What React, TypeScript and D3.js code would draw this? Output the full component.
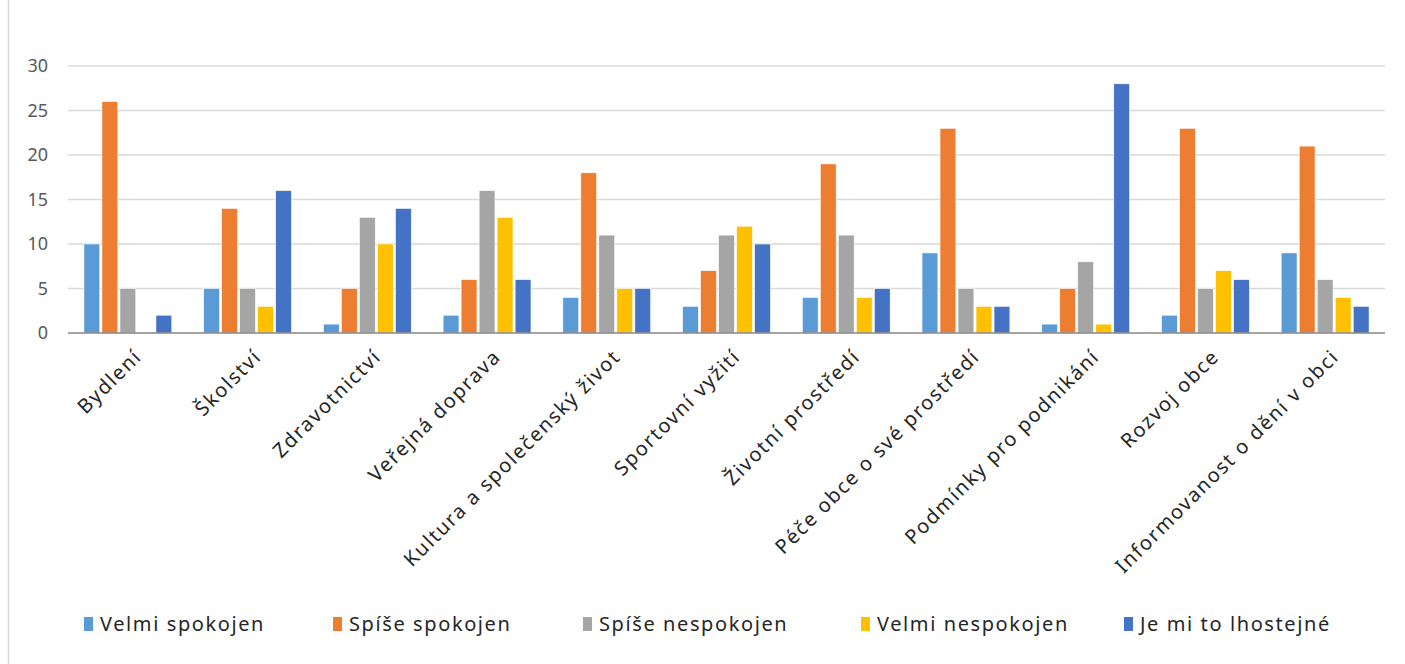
import { useEffect, useRef } from 'react';
import * as d3 from 'd3';

const categories = [
  'Bydlení',
  'Školství',
  'Zdravotnictví',
  'Veřejná doprava',
  'Kultura a společenský život',
  'Sportovní vyžití',
  'Životní prostředí',
  'Péče obce o své prostředí',
  'Podmínky pro podnikání',
  'Rozvoj obce',
  'Informovanost o dění v obci',
];

const seriesNames = ['Velmi spokojen', 'Spíše spokojen', 'Spíše nespokojen', 'Velmi nespokojen', 'Je mi to lhostejné'];

const velmiSpokojen = [10, 5, 1, 2, 4, 3, 4, 9, 1, 2, 9];
const spiseSpokojen = [26, 14, 5, 6, 18, 7, 19, 23, 5, 23, 21];
const spiseNespokojen = [5, 5, 13, 16, 11, 11, 11, 5, 8, 5, 6];
const velmiNespokojen = [0, 3, 10, 13, 5, 12, 4, 3, 1, 7, 4];
const lhostejne = [2, 16, 14, 6, 5, 10, 5, 3, 28, 6, 3];

const yTicks = [0, 5, 10, 15, 20, 25, 30];

const COLORS = ['#5B9BD5', '#ED7D31', '#A5A5A5', '#FFC000', '#4472C4'];

const WIDTH = 1405;
const HEIGHT = 664;
const MARGIN = { top: 66, right: 20, bottom: 331, left: 68 };
const FONT = '"Noto Sans", "Open Sans", sans-serif';

export default function App() {
  const svgRef = useRef<SVGSVGElement>(null);

  useEffect(() => {
    document.body.style.margin = '0';
    if (!svgRef.current) return;

    const values = [velmiSpokojen, spiseSpokojen, spiseNespokojen, velmiNespokojen, lhostejne];
    const innerWidth = WIDTH - MARGIN.left - MARGIN.right;
    const innerHeight = HEIGHT - MARGIN.top - MARGIN.bottom;

    d3.select(svgRef.current).selectAll('*').remove();
    const svg = d3.select(svgRef.current);

    svg.append('rect').attr('width', WIDTH).attr('height', HEIGHT).attr('fill', '#fff');
    svg.append('line')
      .attr('x1', 8.5).attr('x2', 8.5).attr('y1', 0).attr('y2', HEIGHT)
      .attr('stroke', '#d9d9d9').attr('stroke-width', 1.5);

    const g = svg.append('g').attr('transform', `translate(${MARGIN.left},${MARGIN.top})`);

    const x0 = d3.scaleBand<string>().domain(categories).range([0, innerWidth]).paddingInner(0.23).paddingOuter(0.115);
    const x1 = d3.scaleBand<number>().domain(d3.range(seriesNames.length)).range([0, x0.bandwidth()]).padding(0.12);
    const y = d3.scaleLinear().domain([0, 30]).range([innerHeight, 0]);

    // gridlines
    g.append('g')
      .selectAll('line')
      .data(yTicks.filter((t) => t > 0))
      .join('line')
      .attr('x1', 0).attr('x2', innerWidth)
      .attr('y1', (d) => y(d)).attr('y2', (d) => y(d))
      .attr('stroke', '#d9d9d9').attr('stroke-width', 1.5);

    // y labels
    g.append('g')
      .selectAll('text')
      .data(yTicks)
      .join('text')
      .attr('x', -20)
      .attr('y', (d) => y(d))
      .attr('dy', '0.35em')
      .attr('text-anchor', 'end')
      .attr('font-family', FONT)
      .attr('font-size', 18)
      .attr('fill', '#595959')
      .text((d) => d);

    // bars
    const groups = g.selectAll('.grp')
      .data(categories)
      .join('g')
      .attr('class', 'grp')
      .attr('transform', (d) => `translate(${x0(d)},0)`);

    groups.selectAll('rect')
      .data((_, ci) => values.map((s, si) => ({ si, v: s[ci] })))
      .join('rect')
      .attr('x', (d) => x1(d.si) ?? 0)
      .attr('y', (d) => y(d.v))
      .attr('width', x1.bandwidth())
      .attr('height', (d) => innerHeight - y(d.v))
      .attr('fill', (d) => COLORS[d.si])
      .attr('stroke', '#fff')
      .attr('stroke-width', 0.6);

    // x axis line
    g.append('line')
      .attr('x1', 0).attr('x2', innerWidth)
      .attr('y1', innerHeight).attr('y2', innerHeight)
      .attr('stroke', '#868686').attr('stroke-width', 1.5);

    // x labels
    g.append('g')
      .selectAll('text')
      .data(categories)
      .join('text')
      .attr('transform', (d) => `translate(${(x0(d) ?? 0) + x0.bandwidth() / 2 + 10},${innerHeight + 20}) rotate(-45)`)
      .attr('text-anchor', 'end')
      .attr('dy', '0.35em')
      .attr('font-family', FONT)
      .attr('font-size', 20)
      .attr('letter-spacing', 1.6)
      .attr('fill', '#262626')
      .text((d) => d);

    // legend
    const legendX = [84, 333, 583, 861, 1124];
    const legend = svg.append('g').attr('transform', 'translate(0,624)');
    const items = legend.selectAll('g')
      .data(seriesNames)
      .join('g')
      .attr('transform', (_, i) => `translate(${legendX[i]},0)`);
    items.append('rect')
      .attr('x', 0).attr('y', -7).attr('width', 9).attr('height', 14)
      .attr('fill', (_, i) => COLORS[i]);
    items.append('text')
      .attr('x', 16).attr('dy', '0.35em')
      .attr('font-family', FONT)
      .attr('font-size', 20)
      .attr('letter-spacing', 1.6)
      .attr('fill', '#262626')
      .text((d) => d);
  }, []);

  return <svg ref={svgRef} width={WIDTH} height={HEIGHT} style={{ display: 'block' }} />;
}
